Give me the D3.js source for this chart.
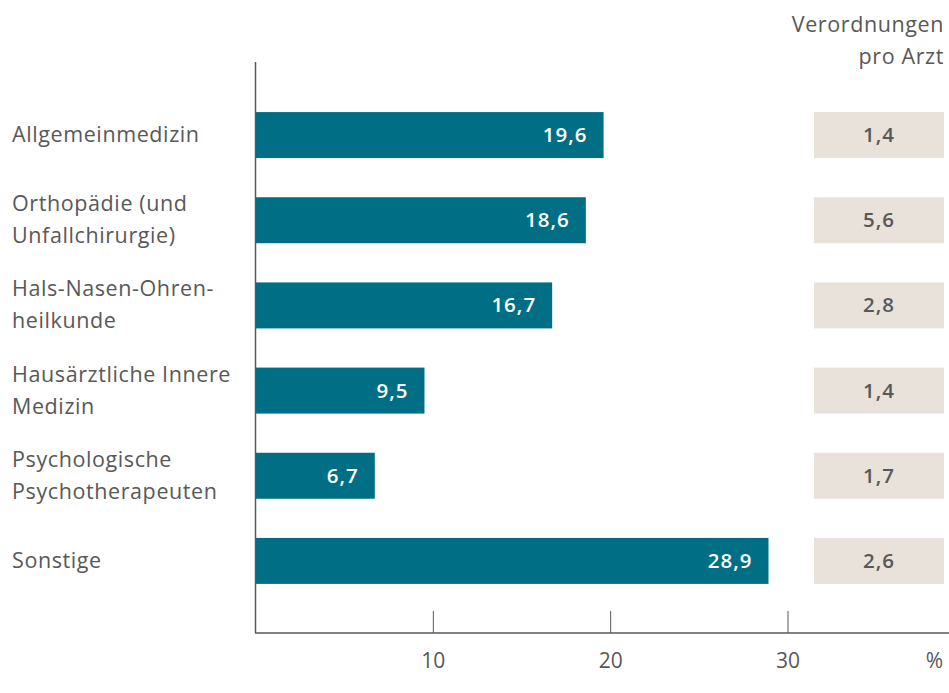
<!DOCTYPE html>
<html>
<head>
<meta charset="utf-8">
<script src="https://cdn.jsdelivr.net/npm/d3@7"></script>
<style>
  body { margin: 0; background: #fff; }
  text { font-family: "Open Sans", "DejaVu Sans", sans-serif; }
</style>
</head>
<body>
<div id="chart"></div>
<script>
// Data
var categories = [
  ["Allgemeinmedizin"],
  ["Orthopädie (und", "Unfallchirurgie)"],
  ["Hals-Nasen-Ohren-", "heilkunde"],
  ["Hausärztliche Innere", "Medizin"],
  ["Psychologische", "Psychotherapeuten"],
  ["Sonstige"]
];
var shares = [19.6, 18.6, 16.7, 9.5, 6.7, 28.9];
var perDoctor = [1.4, 5.6, 2.8, 1.4, 1.7, 2.6];
var tickValues = [10, 20, 30];

var fmt = function(v) { return d3.format(".1f")(v).replace(".", ","); };

var width = 949, height = 693;
var barColor = "#006e85", boxColor = "#e8e2da", textColor = "#585858";

var svg = d3.select("#chart")
  .append("svg")
    .attr("width", width)
    .attr("height", height);

// Scales
var x = d3.scaleLinear().domain([0, 30]).range([256, 788]);
var y = d3.scaleBand()
  .domain(d3.range(categories.length))
  .range([92.5, 603.5])
  .paddingInner(0.46)
  .paddingOuter(0.23);

// Axes
var axisY = 633;
svg.append("line")
  .attr("x1", 255.5).attr("x2", 255.5)
  .attr("y1", 62).attr("y2", axisY)
  .attr("stroke", textColor).attr("stroke-width", 1.5);
svg.append("line")
  .attr("x1", 255).attr("x2", width)
  .attr("y1", axisY).attr("y2", axisY)
  .attr("stroke", textColor).attr("stroke-width", 1.5);

svg.selectAll(".tick")
  .data(tickValues)
  .enter().append("line")
    .attr("class", "tick")
    .attr("x1", function(d) { return x(d); })
    .attr("x2", function(d) { return x(d); })
    .attr("y1", 611).attr("y2", axisY)
    .attr("stroke", textColor).attr("stroke-width", 1);

svg.selectAll(".tick-label")
  .data(tickValues)
  .enter().append("text")
    .attr("class", "tick-label")
    .attr("x", function(d) { return x(d); })
    .attr("y", 668)
    .attr("text-anchor", "middle")
    .attr("font-size", 21)
    .attr("fill", textColor)
    .text(function(d) { return d; });

svg.append("text")
  .attr("x", 943).attr("y", 668)
  .attr("text-anchor", "end")
  .attr("font-size", 21)
  .attr("fill", textColor)
  .text("%");

// Bars
svg.selectAll(".bar")
  .data(shares)
  .enter().append("rect")
    .attr("class", "bar")
    .attr("x", x(0))
    .attr("y", function(d, i) { return y(i); })
    .attr("width", function(d) { return x(d) - x(0); })
    .attr("height", y.bandwidth())
    .attr("fill", barColor);

svg.selectAll(".bar-label")
  .data(shares)
  .enter().append("text")
    .attr("class", "bar-label")
    .attr("x", function(d) { return x(d) - 16; })
    .attr("y", function(d, i) { return y(i) + y.bandwidth() / 2 + 7; })
    .attr("text-anchor", "end")
    .attr("font-size", 20.5)
    .attr("font-weight", 600)
    .attr("letter-spacing", 1)
    .attr("fill", "#fff")
    .text(fmt);

// Category labels
var labels = svg.selectAll(".cat")
  .data(categories)
  .enter().append("text")
    .attr("class", "cat")
    .attr("x", 12)
    .attr("font-size", 21.5)
    .attr("letter-spacing", 0.6)
    .attr("fill", textColor);

labels.each(function(lines, i) {
  var cy = y(i) + y.bandwidth() / 2;
  var top = cy - (lines.length - 1) * 16 + 7;
  d3.select(this).selectAll("tspan")
    .data(lines)
    .enter().append("tspan")
      .attr("x", 12)
      .attr("y", function(d, j) { return top + j * 32; })
      .text(function(d) { return d; });
});

// Right column: Verordnungen pro Arzt
svg.append("text")
  .attr("x", 944).attr("y", 32)
  .attr("text-anchor", "end")
  .attr("font-size", 21.5)
  .attr("letter-spacing", 0.6)
  .attr("fill", textColor)
  .text("Verordnungen");
svg.append("text")
  .attr("x", 944).attr("y", 64)
  .attr("text-anchor", "end")
  .attr("font-size", 21.5)
  .attr("letter-spacing", 0.6)
  .attr("fill", textColor)
  .text("pro Arzt");

svg.selectAll(".box")
  .data(perDoctor)
  .enter().append("rect")
    .attr("class", "box")
    .attr("x", 814)
    .attr("y", function(d, i) { return y(i); })
    .attr("width", 130)
    .attr("height", y.bandwidth())
    .attr("fill", boxColor);

svg.selectAll(".box-label")
  .data(perDoctor)
  .enter().append("text")
    .attr("class", "box-label")
    .attr("x", 879)
    .attr("y", function(d, i) { return y(i) + y.bandwidth() / 2 + 7; })
    .attr("text-anchor", "middle")
    .attr("font-size", 20.5)
    .attr("font-weight", 600)
    .attr("letter-spacing", 1)
    .attr("fill", textColor)
    .text(fmt);
</script>
</body>
</html>
